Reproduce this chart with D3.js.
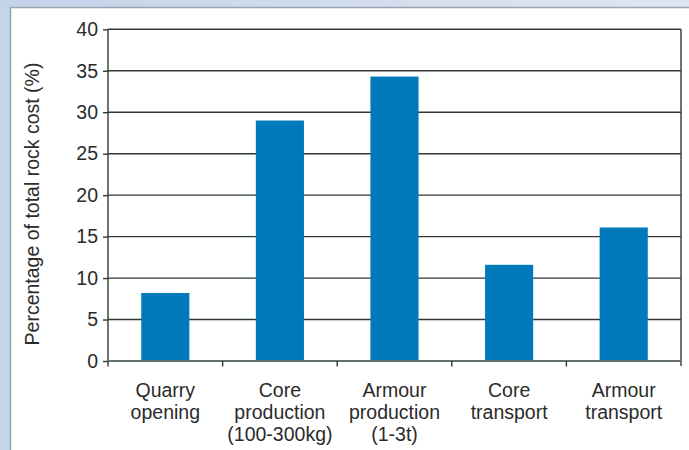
<!DOCTYPE html>
<html>
<head>
<meta charset="utf-8">
<title>Rock cost breakdown</title>
<script src="https://cdn.jsdelivr.net/npm/d3@7"></script>
<style>
  body { margin: 0; }
  svg text { font-family: "Liberation Sans", Arial, sans-serif; fill: #2b2b2b; }
</style>
</head>
<body>
<script>
// cost shares (%) per activity
var categories = ["Quarry opening", "Core production (100-300kg)", "Armour production (1-3t)", "Core transport", "Armour transport"];
var labelLines = [["Quarry", "opening"], ["Core", "production", "(100-300kg)"], ["Armour", "production", "(1-3t)"], ["Core", "transport"], ["Armour", "transport"]];
var values = [8.2, 29.0, 34.3, 11.6, 16.1];
var yTicks = [0, 5, 10, 15, 20, 25, 30, 35, 40];

var width = 689, height = 450;
var plotLeft = 108, plotRight = 681, plotTop = 29.3, plotBottom = 361;
var fontSize = "19.5px";

var svg = d3.select("body").append("svg")
    .attr("width", width)
    .attr("height", height);

// light blue frame around a white panel
var grad = svg.append("defs").append("linearGradient")
    .attr("id", "frame").attr("x1", "0").attr("x2", "1");
grad.append("stop").attr("offset", "0").attr("stop-color", "#c3d3e9");
grad.append("stop").attr("offset", "1").attr("stop-color", "#e0e6f1");
svg.append("rect").attr("width", width).attr("height", height).attr("fill", "url(#frame)");
svg.append("rect").attr("x", 0).attr("y", 8).attr("width", 11).attr("height", height).attr("fill", "#c5d5ea");
svg.append("rect")
    .attr("x", 10.5).attr("y", 7.5)
    .attr("width", 700).attr("height", 460)
    .attr("fill", "#fff")
    .attr("stroke", "#9ca5ae").attr("stroke-width", 1.5);

var x = d3.scaleBand().domain(categories).range([plotLeft, plotRight]).padding(0);
var y = d3.scaleLinear().domain([0, 40]).range([plotBottom, plotTop]);

// horizontal gridlines
svg.append("g").selectAll("line")
    .data(yTicks.filter(function(d) { return d > 0; }))
    .enter().append("line")
    .attr("x1", plotLeft).attr("x2", plotRight)
    .attr("y1", function(d) { return y(d); })
    .attr("y2", function(d) { return y(d); })
    .attr("stroke", "#2e3834").attr("stroke-width", 1.4);

// right border of the plot
svg.append("line")
    .attr("x1", plotRight).attr("x2", plotRight)
    .attr("y1", plotTop).attr("y2", plotBottom + 5)
    .attr("stroke", "#2e3834").attr("stroke-width", 1.4);

// bars
var barW = x.bandwidth() * 0.42;
svg.append("g").selectAll("rect")
    .data(values)
    .enter().append("rect")
    .attr("x", function(d, i) { return x(categories[i]) + (x.bandwidth() - barW) / 2; })
    .attr("y", function(d) { return y(d); })
    .attr("width", barW)
    .attr("height", function(d) { return plotBottom - y(d); })
    .attr("fill", "#007abb");

// y axis
var yAxis = d3.axisLeft(y).tickValues(yTicks).tickSize(5).tickPadding(5);
var gy = svg.append("g")
    .attr("transform", "translate(" + plotLeft + ",0)")
    .call(yAxis);
gy.select(".domain").remove();
gy.selectAll(".tick line").attr("stroke", "#2e3834").attr("stroke-width", 1.4);
gy.selectAll(".tick text").style("font-size", fontSize).attr("fill", "#2b2b2b");
svg.append("line")
    .attr("x1", plotLeft).attr("x2", plotLeft)
    .attr("y1", plotTop).attr("y2", plotBottom + 5.5)
    .attr("stroke", "#2e3834").attr("stroke-width", 1.4);

// x axis: baseline, ticks between categories, wrapped labels
svg.append("line")
    .attr("x1", plotLeft).attr("x2", plotRight)
    .attr("y1", plotBottom).attr("y2", plotBottom)
    .attr("stroke", "#66736f").attr("stroke-width", 2);
var bounds = categories.map(function(c) { return x(c); }).concat([plotRight]);
svg.append("g").selectAll("line")
    .data(bounds.slice(1, -1))
    .enter().append("line")
    .attr("x1", function(d) { return d; }).attr("x2", function(d) { return d; })
    .attr("y1", plotBottom).attr("y2", plotBottom + 5.5)
    .attr("stroke", "#2e3834").attr("stroke-width", 1.4);

var labels = svg.append("g").selectAll("text")
    .data(categories)
    .enter().append("text")
    .attr("text-anchor", "middle")
    .style("font-size", fontSize)
    .attr("transform", function(d) { return "translate(" + (x(d) + x.bandwidth() / 2) + ",397)"; });
labels.selectAll("tspan")
    .data(function(d, i) { return labelLines[i]; })
    .enter().append("tspan")
    .attr("x", 0)
    .attr("dy", function(d, i) { return i === 0 ? 0 : 22; })
    .text(function(d) { return d; });

// y axis title
svg.append("text")
    .attr("transform", "translate(39,204) rotate(-90)")
    .attr("text-anchor", "middle")
    .style("font-size", fontSize)
    .text("Percentage of total rock cost (%)");
</script>
</body>
</html>
